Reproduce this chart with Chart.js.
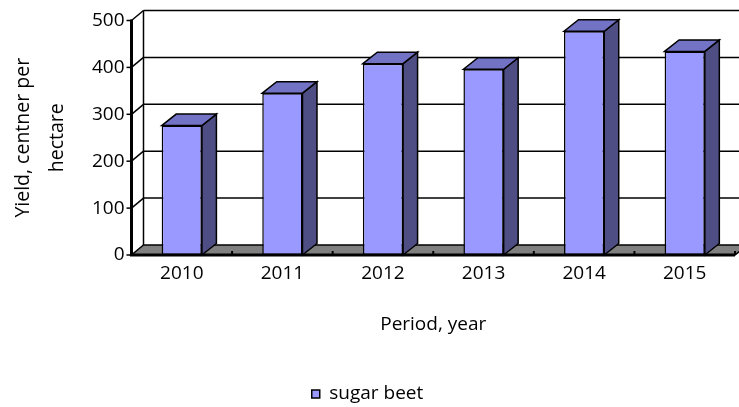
<!DOCTYPE html>
<html>
<head>
<meta charset="utf-8">
<script src="https://cdn.jsdelivr.net/npm/chart.js@4.4.1/dist/chart.umd.min.js"></script>
<style>
    html, body { margin: 0; padding: 0; background: #fff; overflow: hidden; }
</style>
</head>
<body>
<canvas id="yieldChart" width="739" height="407"></canvas>
<script>
// 数据
const years = ['2010', '2011', '2012', '2013', '2014', '2015'];
const sugarBeet = [276, 345, 408, 396, 477, 434];
const yTicks = [0, 100, 200, 300, 400, 500];

// 3D 偏移
const WALL_DX = 12, WALL_DY = -10;
const BAR_DX = 14.5, BAR_DY = -11.5;

const FRONT = '#9999FF';
const TOP = '#7373C6';
const SIDE = '#4E4E84';

// 背景墙、侧墙和底面
const depth3d = {
    id: 'depth3d',
    beforeDatasetsDraw(chart) {
        const { ctx, chartArea: { left, right, top, bottom }, scales: { y } } = chart;
        ctx.save();
        ctx.strokeStyle = '#000';
        ctx.lineWidth = 1.5;

        yTicks.forEach(v => {
            const py = y.getPixelForValue(v);
            if (v > 0) {
                ctx.beginPath();
                ctx.moveTo(left + WALL_DX, py + WALL_DY);
                ctx.lineTo(chart.width, py + WALL_DY);
                ctx.stroke();
                ctx.beginPath();
                ctx.moveTo(left, py);
                ctx.lineTo(left + WALL_DX, py + WALL_DY);
                ctx.stroke();
            }
            ctx.beginPath();
            ctx.moveTo(left - 5, py);
            ctx.lineTo(left, py);
            ctx.stroke();
        });

        ctx.beginPath();
        ctx.moveTo(left + WALL_DX, bottom + WALL_DY);
        ctx.lineTo(left + WALL_DX, top + WALL_DY);
        ctx.stroke();

        // 底面
        ctx.fillStyle = '#808080';
        ctx.beginPath();
        ctx.moveTo(left, bottom);
        ctx.lineTo(right, bottom);
        ctx.lineTo(right + WALL_DX, bottom + WALL_DY);
        ctx.lineTo(left + WALL_DX, bottom + WALL_DY);
        ctx.closePath();
        ctx.fill();
        ctx.stroke();

        // 分类刻度
        const step = (right - left) / years.length;
        ctx.lineWidth = 2;
        for (let k = 1; k <= years.length; k++) {
            const px = left + k * step;
            ctx.beginPath();
            ctx.moveTo(px, bottom);
            ctx.lineTo(px, bottom - 4);
            ctx.stroke();
        }
        ctx.restore();
    },
    afterDatasetsDraw(chart) {
        const { ctx, chartArea: { left, right, top, bottom } } = chart;
        const meta = chart.getDatasetMeta(0);
        ctx.save();
        ctx.strokeStyle = '#000';
        ctx.lineWidth = 1.5;

        meta.data.forEach(bar => {
            const { x, y, base, width } = bar.getProps(['x', 'y', 'base', 'width'], true);
            const l = x - width / 2, r = x + width / 2;

            // 侧面
            ctx.fillStyle = SIDE;
            ctx.beginPath();
            ctx.moveTo(r, base);
            ctx.lineTo(r + BAR_DX, base + BAR_DY);
            ctx.lineTo(r + BAR_DX, y + BAR_DY);
            ctx.lineTo(r, y);
            ctx.closePath();
            ctx.fill();
            ctx.stroke();

            // 顶面
            ctx.fillStyle = TOP;
            ctx.beginPath();
            ctx.moveTo(l, y);
            ctx.lineTo(l + BAR_DX, y + BAR_DY);
            ctx.lineTo(r + BAR_DX, y + BAR_DY);
            ctx.lineTo(r, y);
            ctx.closePath();
            ctx.fill();
            ctx.stroke();
        });

        // 前轴线
        ctx.lineWidth = 3;
        ctx.beginPath();
        ctx.moveTo(left, top - 1);
        ctx.lineTo(left, bottom);
        ctx.lineTo(right, bottom);
        ctx.stroke();
        ctx.lineWidth = 2;
        ctx.beginPath();
        ctx.moveTo(right, bottom);
        ctx.lineTo(right, bottom - 4);
        ctx.stroke();
        ctx.restore();
    }
};

Chart.defaults.font.family = "'Open Sans', sans-serif";
Chart.defaults.color = '#000';

const ctx = document.getElementById('yieldChart').getContext('2d');
const yieldChart = new Chart(ctx, {
    type: 'bar',
    data: {
        labels: years,
        datasets: [{
            label: 'sugar beet',
            data: sugarBeet,
            backgroundColor: FRONT,
            borderColor: '#000',
            borderWidth: 1.5,
            borderSkipped: false,
            barPercentage: 0.4,
            categoryPercentage: 1
        }]
    },
    options: {
        responsive: false,
        animation: false,
        devicePixelRatio: 1,
        layout: { padding: { top: 20.5, right: 4, bottom: 3.5, left: 0 } },
        plugins: {
            tooltip: { enabled: false },
            legend: {
                position: 'bottom',
                maxHeight: 25,
                labels: {
                    boxWidth: 8,
                    boxHeight: 8,
                    padding: 6,
                    font: { size: 19 }
                }
            }
        },
        scales: {
            x: {
                grid: { display: false, drawTicks: false },
                border: { display: false },
                ticks: { padding: 7, font: { size: 19 } },
                title: {
                    display: true,
                    text: 'Period, year',
                    font: { size: 19 },
                    padding: { top: 0, bottom: 43 }
                },
                afterFit(scale) { scale.height = 123.5; }
            },
            y: {
                min: 0,
                max: 500,
                grid: { display: false, drawTicks: false },
                border: { display: false },
                ticks: { stepSize: 100, padding: 7, font: { size: 19 } },
                title: {
                    display: true,
                    text: ['Yield, centner per', 'hectare'],
                    font: { size: 19.5, lineHeight: 1.75 },
                    padding: { top: 6, bottom: 0 }
                },
                afterFit(scale) { scale.width = 131.5; }
            }
        }
    },
    plugins: [depth3d]
});
</script>
</body>
</html>
